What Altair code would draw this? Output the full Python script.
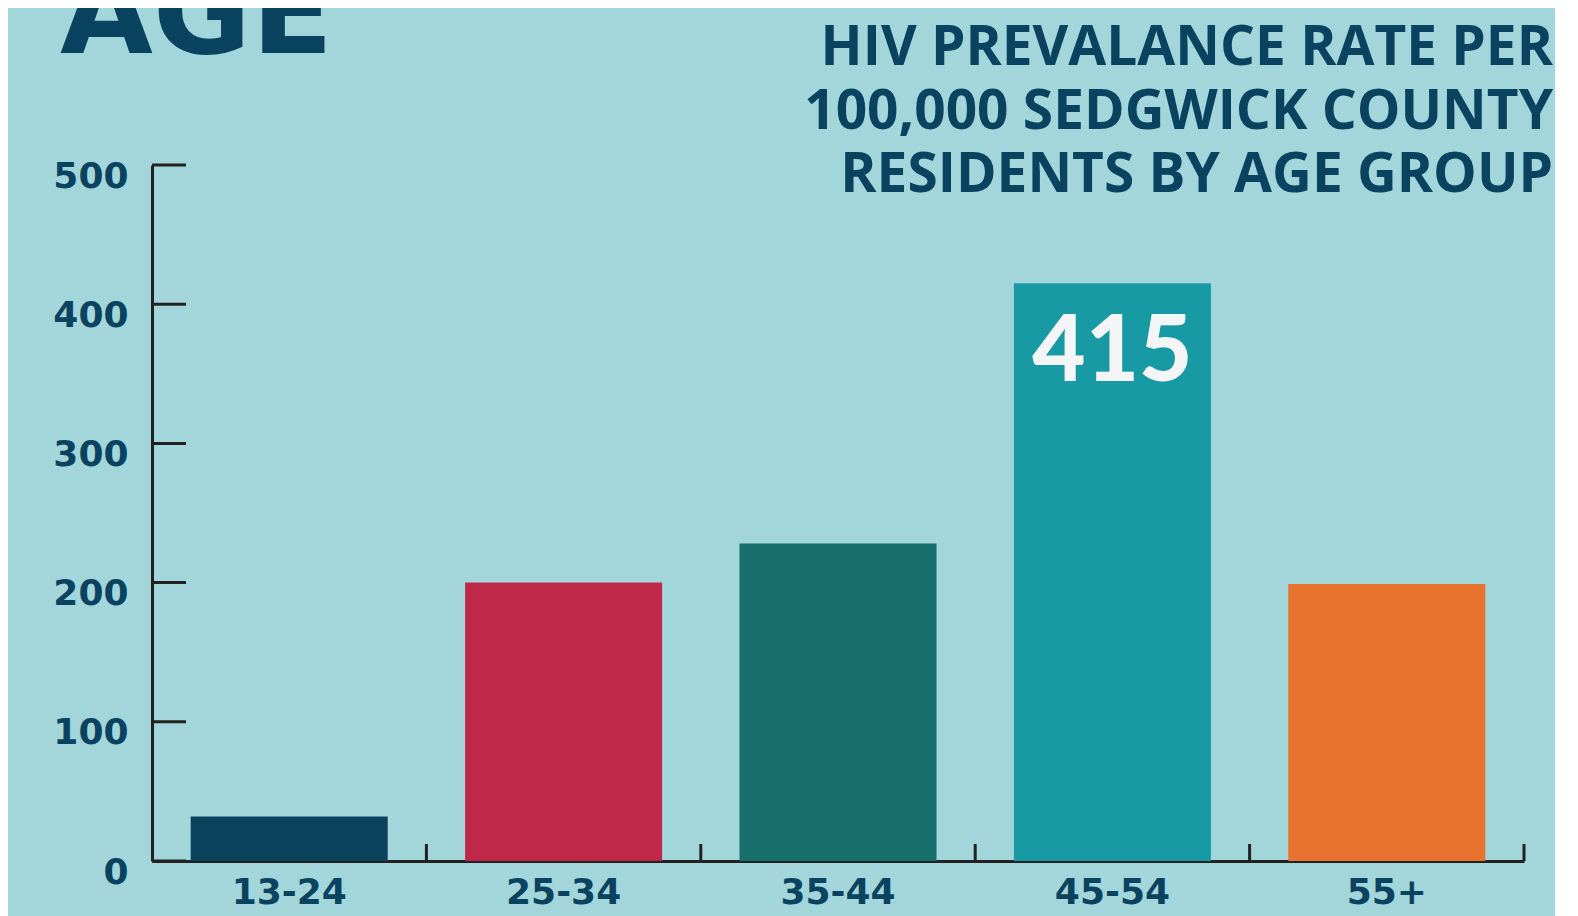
import altair as alt
import pandas as pd

ages = ["13-24", "25-34", "35-44", "45-54", "55+"]
rates = [32, 200, 228, 415, 199]
colors = ["#0a425c", "#c0284a", "#176f6c", "#189aa4", "#e8732f"]
y_ticks = [0, 100, 200, 300, 400, 500]
highlight_label = ["415"]
headline = ["AGE"]
subtitle_lines = ["HIV PREVALANCE RATE PER", "100,000 SEDGWICK COUNTY", "RESIDENTS BY AGE GROUP"]

TEXT = "#0a4360"
AXIS = "#222222"
BG = "#a3d6da"
W, H = 1372, 696
PAD_IN, PAD_OUT = 0.282, 0.141
STEP = W / (len(ages) - PAD_IN + 2 * PAD_OUT)

df = pd.DataFrame({"age": ages, "rate": rates, "color": colors})
lab_df = df[df["rate"] == 415].assign(label=highlight_label)
tick_df = pd.DataFrame({"v": y_ticks})

xs = alt.Scale(domain=ages, paddingInner=PAD_IN, paddingOuter=PAD_OUT)
ys = alt.Scale(domain=[0, 500], nice=False)

bars = alt.Chart(df).mark_bar().encode(
    x=alt.X("age:N", scale=xs, sort=ages, title=None,
            axis=alt.Axis(labelAngle=0, labelFont="DejaVu Sans", labelFontWeight="bold",
                          labelFontSize=36, labelColor=TEXT, labelPadding=14,
                          ticks=False, tickSize=0, domainColor=AXIS, domainWidth=3)),
    y=alt.Y("rate:Q", scale=ys, title=None,
            axis=alt.Axis(values=y_ticks, labelFont="DejaVu Sans", labelFontWeight="bold",
                          labelFontSize=36, labelColor=TEXT, labelPadding=24, labelOffset=11,
                          ticks=False, tickSize=0, grid=False, domainColor=AXIS, domainWidth=3)),
    color=alt.Color("color:N", scale=None),
)

yt = alt.Chart(tick_df).mark_rule(color=AXIS, strokeWidth=3).encode(
    y=alt.Y("v:Q", scale=ys),
    x=alt.value(0), x2=alt.value(34),
)

# ticks at band boundaries (end of each band, incl. half the inner padding)
xt = alt.Chart(df).mark_rule(color=AXIS, strokeWidth=3, xOffset=STEP * PAD_IN / 2).encode(
    x=alt.X("age:N", scale=xs, sort=ages, bandPosition=1),
    y=alt.value(H - 17), y2=alt.value(H),
)

lab = alt.Chart(lab_df).mark_text(font="Lato", fontWeight=900, fontSize=92,
                                   color="#f4f5f7", baseline="middle", dy=70).encode(
    x=alt.X("age:N", scale=xs, sort=ages),
    y=alt.Y("rate:Q", scale=ys),
    text="label:N",
)

head = alt.Chart(pd.DataFrame({"t": headline})).mark_text(
    font="DejaVu Sans", fontWeight="bold", fontSize=120, color=TEXT,
    align="left", baseline="alphabetic").encode(
    x=alt.value(-92), y=alt.value(-112), text="t:N")

sub_layers = []
for i, line in enumerate(subtitle_lines):
    sub_layers.append(
        alt.Chart(pd.DataFrame({"t": [line]})).mark_text(
            font="Open Sans", fontWeight="bold", fontSize=55, color=TEXT,
            align="right", baseline="alphabetic").encode(
            x=alt.value(1401), y=alt.value(-100 + 63.5 * i), text="t:N")
    )

chart = alt.layer(bars, yt, xt, lab, head, *sub_layers).properties(
    width=W, height=H,
    autosize=alt.AutoSizeParams(type="none"),
    padding={"left": 144, "top": 157, "right": 31, "bottom": 55},
    background=BG,
).configure_view(stroke=None)

chart.save("out.html", embed_options={"renderer": "svg", "actions": False})
